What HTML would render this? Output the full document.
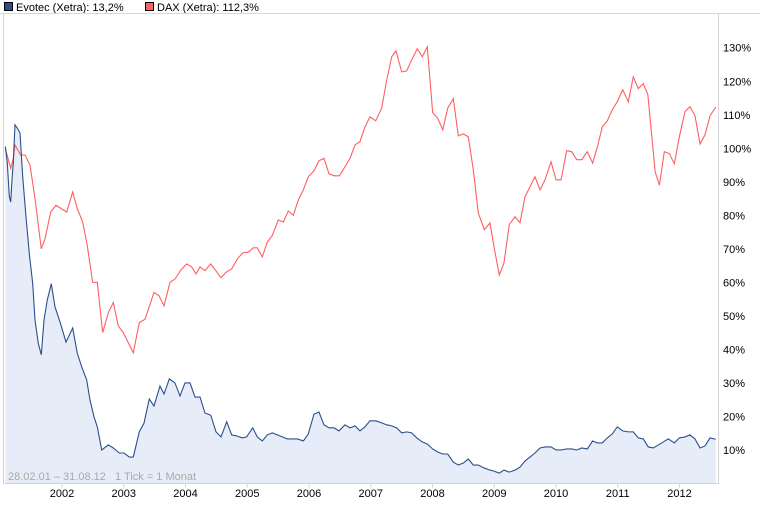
<!DOCTYPE html>
<html><head><meta charset="utf-8">
<style>
body{margin:0;background:#fff;width:760px;height:517px;overflow:hidden;font-family:"Liberation Sans",sans-serif;}
svg text{font-family:"Liberation Sans",sans-serif;}
</style></head>
<body>
<svg id="chart" width="760" height="517" viewBox="0 0 760 517" xmlns="http://www.w3.org/2000/svg">
<g>
<rect x="4.5" y="2.5" width="8" height="8" fill="#2b4f8c" stroke="#000" stroke-width="1"/>
<text x="16" y="11" font-size="11" fill="#000">Evotec (Xetra): 13,2%</text>
<rect x="145.5" y="2.5" width="8" height="8" fill="#ff6060" stroke="#000" stroke-width="1"/>
<text x="157" y="11" font-size="11" fill="#000">DAX (Xetra): 112,3%</text>
</g>
<line x1="0" y1="13.5" x2="760" y2="13.5" stroke="#d8d8d8"/>
<g id="plot"></g>
</svg>
<script>
const yTicks = [10,20,30,40,50,60,70,80,90,100,110,120,130];
const years = [2002,2003,2004,2005,2006,2007,2008,2009,2010,2011,2012];
// month offsets since 28.02.01
const daxMonths = [0,1.05,1.55,1.88,2.99,3.83,4.8,5.77,6.99,7.71,8.82,9.85,11.93,13.09,13.98,15.03,15.92,16.97,17.87,18.92,20.01,20.98,21.95,22.92,24.86,26.03,27.14,28.88,29.86,30.83,31.99,32.96,34.27,35.24,36.21,37.04,37.82,38.79,39.9,41.9,42.87,43.98,45.07,46.12,47.21,
48.17,48.95,49.92,50.89,51.86,53.03,54,54.97,55.94,56.92,57.89,58.86,59.96,60.93,61.91,62.88,63.85,64.88,65.98,66.96,67.93,68.9,69.87,70.84,71.95,73.11,74.09,75.06,75.89,77,77.97,78.94,80.03,81,81.97,83.02,84,84.97,85.94,87.02,88,88.97,89.94,90.91,91.88,93.05,94.15,
94.93,95.96,96.87,97.9,99.01,99.98,100.95,101.92,102.89,103.87,104.84,106.01,106.98,107.95,109.05,110.02,111,111.97,113.05,114.1,115,115.97,116.94,117.91,118.88,119.93,121.02,121.99,122.96,123.93,124.82,125.46,126.24,127.07,128.01,128.98,129.96,130.93,132.03,133,133.97,134.95,135.92,136.89,138];
const daxValues = [100,94,97,101,98,98,95,85,70,73,81,83,81,87,82,78,71,60,60,45,51,54,47,45,39,48,49,57,56,53,60,61,64,65.5,64.6,62.5,64.6,63.5,65.5,61.4,63,64,67,68.8,69,
70.3,70.3,67.6,72,74,78.6,78,81.3,80,84.6,87.6,91.5,93.3,96.3,97,92.4,91.8,91.8,94.5,97,101,102,106.4,109.4,108.2,112,120.4,127.3,129.1,122.8,123.1,126.4,129.7,127.3,130.3,110.6,109,105.5,112,114.8,103.7,104.3,103.4,93.6,80.7,75.7,77.7,
70.6,62.2,65.8,77.2,79.6,77.8,85.5,88.5,91.5,87.6,90.6,96,90.6,90.6,99.3,99,96.6,96.6,99,95.6,100.4,106.4,108.2,111.5,113.9,117.5,113.9,121.3,117.8,119.3,116,105.5,93,89,99,98.4,95.4,103.4,111,112.4,109.7,101.3,104,109.7,112.3];
const evotecMonths = [0,0.39,0.78,1.05,1.3,1.55,1.88,2.33,2.86,3.38,4.02,4.66,5.32,5.77,6.41,6.99,7.52,8.16,8.94,9.65,10.63,11.79,13.09,13.98,14.84,15.81,16.45,17.23,17.87,18.73,20.01,20.98,22.15,23.06,24.09,24.86,26.03,26.94,27.97,28.88,30.05,30.83,31.86,32.96,33.93,34.9,35.88,36.85,37.82,38.79,39.9,40.93,41.9,43.01,43.98,44.95,46.03,46.89,47.39,
48.06,48.95,49.92,50.89,51.86,52.84,53.81,54.78,55.75,56.72,57.89,58.86,59.96,60.93,61.91,62.88,63.85,64.82,65.98,66.96,67.93,68.9,69.87,70.84,71.95,73.11,74.09,75.06,76.03,77,77.97,78.94,79.92,81,81.97,83.02,84,84.97,85.94,87.02,88,88.97,89.94,90.91,91.88,93.05,94.15,
94.93,95.96,96.87,97.9,99.01,99.98,100.95,101.92,102.89,103.87,104.84,106.01,106.98,107.95,109.05,110.02,111,111.97,113.05,114.1,115,115.97,116.94,117.91,118.88,119.93,121.02,121.99,122.96,123.93,124.9,125.87,126.85,127.82,128.79,129.96,130.93,132.03,133,133.97,134.95,135.92,136.89,138];
const evotecValues = [100.5,95.6,85.6,84,90.6,95.6,107,106,104.6,91.5,79.6,68.6,59.7,48.8,41.8,38.4,48.8,54.8,59.6,52.7,48.2,42.2,46.4,38.9,34.8,30.9,24.9,19.9,16.9,10,11.5,10.6,9.1,9.1,7.9,7.9,15.4,18,25.2,23.1,29.1,26.7,31.2,30,26.1,30,30,25.8,25.8,21,20.4,15.4,13.9,18.4,14.5,14.2,13.6,13.9,15.1,
16.6,13.9,12.7,14.5,15.1,14.5,13.9,13.3,13.3,13.3,12.7,14.8,20.7,21.3,17.5,16.6,16.6,15.7,17.5,16.6,17.2,15.7,16.9,18.7,18.7,18.1,17.5,17.2,16.6,15.1,15.4,15.1,13.6,12.4,11.8,10.3,9.4,8.8,8.8,6.4,5.5,6.1,7.3,5.5,5.5,4.6,4,
3.7,3.1,4,3.4,4,4.9,6.7,7.9,9.1,10.6,10.9,10.9,10,10,10.3,10.3,10,10.6,10.3,12.7,12.1,12.1,13.6,14.8,16.9,15.7,15.4,15.4,13.6,13.3,10.9,10.6,11.5,12.4,13.3,12.1,13.6,13.9,14.5,13.3,10.6,11.2,13.6,13.2];

const NS = "http://www.w3.org/2000/svg";
const plot = document.getElementById('plot');
const X0 = 5.3, PL = 3.5, PR = 718.5, PT = 13.5, PB = 483.5;
function yScale(v){ return 483.5 - v * 3.352; }
function xScale(m){ return X0 + m * 5.148; }
function yearX(y){ return 62 + (y - 2002) * 61.75; }
function mk(tag, attrs){ const e = document.createElementNS(NS, tag); for (const k in attrs) e.setAttribute(k, attrs[k]); plot.appendChild(e); return e; }

const pts = evotecValues.map((v,i)=>xScale(evotecMonths[i]).toFixed(2)+','+yScale(v).toFixed(2));
const xStart = xScale(evotecMonths[0]), xEnd = xScale(evotecMonths[evotecMonths.length-1]);
const area = mk('polygon', {points: xStart+','+PB+' '+pts.join(' ')+' '+xEnd+','+PB, fill:'#e7edf8'});



const frame = mk('path', {d:`M${PL},${PT} V${PB} H${PR} V${PT}`, fill:'none', stroke:'#d4d4d4', 'stroke-width':1});



yTicks.forEach(t=>{
  const tx = mk('text', {x:723, y:(yScale(t)+4).toFixed(1), 'font-size':11, fill:'#000'});
  tx.textContent = t + '%';
  
  
});
years.forEach(y=>{
  const x = yearX(y);
  const tk = mk('line', {x1:x, y1:PB, x2:x, y2:PB+4, stroke:'#d4d4d4'});
  
  
  const tx = mk('text', {x:x, y:497, 'font-size':11, fill:'#000', 'text-anchor':'middle'});
  tx.textContent = y;
  
  
});

const dpts = daxValues.map((v,i)=>xScale(daxMonths[i]).toFixed(2)+','+yScale(v).toFixed(2));
const dl = mk('polyline', {points:dpts.join(' '), fill:'none', stroke:'#ff5f5f', 'stroke-width':1.1});



const el = mk('polyline', {points:pts.join(' '), fill:'none', stroke:'#2b4f8c', 'stroke-width':1.1});



const note = mk('text', {x:8, y:480, 'font-size':11, fill:'#a8a8a8'});
note.textContent = '28.02.01 \u2013 31.08.12   1 Tick = 1 Monat';


note.style.whiteSpace = 'pre';
</script>
</body></html>
